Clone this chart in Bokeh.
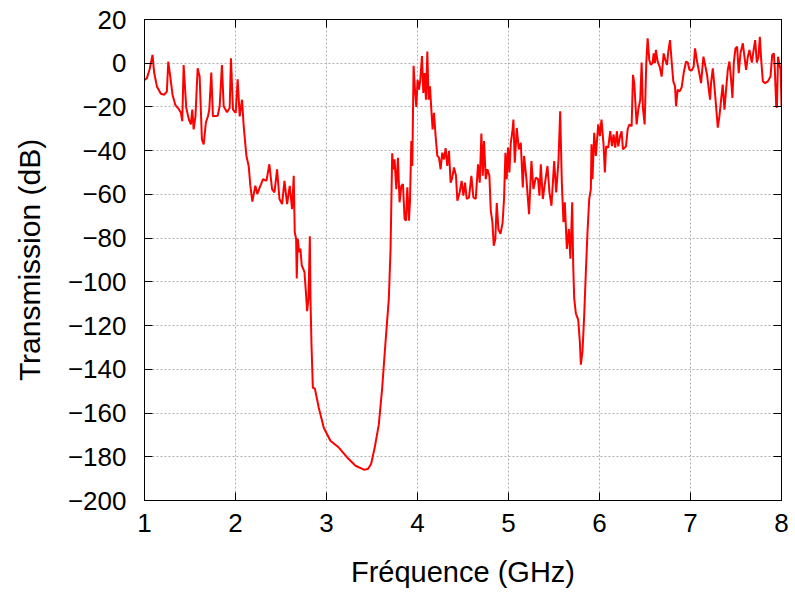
from bokeh.plotting import figure
from bokeh.models import LinearAxis, FixedTicker, Range1d, CustomLabelingPolicy
from bokeh.embed import file_html
from bokeh.resources import INLINE

# Frequency (GHz) and transmission (dB)
freq = [
    1.000, 1.026, 1.055, 1.088, 1.107, 1.136, 1.180, 1.217, 1.246, 1.261,
    1.283, 1.308, 1.338, 1.375, 1.400, 1.415, 1.430, 1.459, 1.488, 1.510,
    1.525, 1.540, 1.560, 1.584, 1.606, 1.631, 1.650, 1.675, 1.697, 1.712,
    1.734, 1.752, 1.804, 1.826, 1.851, 1.870, 1.906, 1.936, 1.950, 1.972,
    2.002, 2.024, 2.046, 2.072, 2.090, 2.120, 2.145, 2.163, 2.185, 2.218,
    2.240, 2.273, 2.303, 2.340, 2.372, 2.402, 2.428, 2.457, 2.483, 2.512,
    2.538, 2.567, 2.596, 2.622, 2.640, 2.651, 2.666, 2.673, 2.684, 2.699,
    2.713, 2.728, 2.743, 2.758, 2.776, 2.787, 2.802, 2.817, 2.824, 2.835,
    2.850, 2.872, 2.915, 2.970, 3.043, 3.135, 3.227, 3.319, 3.411, 3.455,
    3.490, 3.530, 3.575, 3.612, 3.649, 3.685, 3.704, 3.722, 3.733, 3.748,
    3.767, 3.785, 3.803, 3.822, 3.840, 3.858, 3.873, 3.888, 3.906, 3.917,
    3.932, 3.943, 3.957, 3.972, 3.987, 4.001, 4.016, 4.031, 4.049, 4.064,
    4.078, 4.093, 4.108, 4.122, 4.137, 4.152, 4.166, 4.181, 4.199, 4.218,
    4.236, 4.254, 4.272, 4.291, 4.309, 4.327, 4.346, 4.364, 4.382, 4.401,
    4.423, 4.438, 4.463, 4.485, 4.504, 4.522, 4.541, 4.566, 4.592, 4.614,
    4.640, 4.665, 4.684, 4.702, 4.717, 4.731, 4.750, 4.768, 4.790, 4.805,
    4.823, 4.838, 4.855, 4.871, 4.889, 4.912, 4.935, 4.951, 4.966, 4.980,
    4.995, 5.010, 5.025, 5.043, 5.054, 5.069, 5.091, 5.113, 5.135, 5.157,
    5.171, 5.197, 5.226, 5.252, 5.274, 5.300, 5.325, 5.340, 5.355, 5.377,
    5.399, 5.428, 5.450, 5.472, 5.502, 5.524, 5.549, 5.568, 5.586, 5.604,
    5.619, 5.641, 5.663, 5.680, 5.700, 5.711, 5.722, 5.740, 5.766, 5.784,
    5.795, 5.813, 5.832, 5.850, 5.868, 5.887, 5.905, 5.912, 5.923, 5.942,
    5.960, 5.986, 6.004, 6.022, 6.044, 6.059, 6.073, 6.096, 6.118, 6.137,
    6.155, 6.173, 6.191, 6.206, 6.228, 6.243, 6.258, 6.291, 6.309, 6.327,
    6.353, 6.368, 6.382, 6.408, 6.426, 6.448, 6.463, 6.477, 6.496, 6.514,
    6.529, 6.547, 6.565, 6.584, 6.595, 6.609, 6.620, 6.639, 6.661, 6.683,
    6.705, 6.723, 6.742, 6.756, 6.775, 6.793, 6.811, 6.830, 6.841, 6.859,
    6.881, 6.903, 6.925, 6.951, 6.970, 6.988, 7.013, 7.035, 7.050, 7.072,
    7.090, 7.116, 7.142, 7.164, 7.182, 7.197, 7.215, 7.226, 7.245, 7.263,
    7.281, 7.300, 7.318, 7.336, 7.354, 7.373, 7.391, 7.410, 7.428, 7.446,
    7.461, 7.476, 7.494, 7.512, 7.530, 7.549, 7.575, 7.593, 7.611, 7.630,
    7.648, 7.674, 7.696, 7.711, 7.729, 7.747, 7.762, 7.777, 7.795, 7.821,
    7.850, 7.879, 7.898, 7.916, 7.927, 7.942, 7.950, 7.962, 7.973, 7.991,
    8.000,
]
trans = [
    -7.6, -6.8, -3.0, 3.8, -4.5, -10.6, -14.0, -14.4, -12.9, 0.7,
    -6.1, -14.4, -19.0, -20.9, -22.7, -26.5, -0.8, -20.5, -25.8, -28.0,
    -21.2, -30.3, -24.3, -2.3, -6.1, -34.9, -37.1, -27.0, -24.3, -21.2,
    -4.3, -24.3, -24.0, -19.7, -0.8, -19.7, -22.4, -20.5, 2.3, -21.2,
    -22.7, -7.3, -24.3, -16.7, -28.8, -42.4, -47.0, -56.0, -63.3, -56.0,
    -59.8, -56.1, -53.0, -53.8, -46.2, -57.6, -59.1, -48.5, -62.1, -64.4,
    -53.8, -64.4, -56.1, -66.7, -51.5, -77.3, -80.3, -98.5, -80.3, -86.4,
    -84.8, -92.4, -93.9, -95.5, -106.1, -113.4, -107.6, -79.1, -107.6, -128.8,
    -148.5, -148.8, -157.6, -166.7, -172.7, -175.8, -180.3, -184.1, -185.9, -185.6,
    -183.3, -175.8, -165.2, -148.5, -127.3, -107.6, -84.9, -41.2, -48.5, -44.0,
    -57.6, -43.2, -63.6, -56.1, -55.3, -71.2, -72.0, -56.8, -72.0, -63.6,
    -35.6, -47.0, -1.2, -12.1, -20.0, -7.6, -12.1, -7.6, 3.3, -13.6,
    -4.5, -16.7, 5.3, -16.7, -10.6, -21.2, -30.3, -22.7, -33.3, -42.4,
    -43.2, -48.5, -40.9, -44.0, -38.8, -47.0, -40.2, -54.6, -52.3, -47.7,
    -51.5, -62.9, -59.1, -53.8, -60.6, -54.6, -62.1, -61.4, -51.5, -61.4,
    -62.1, -46.2, -54.6, -32.1, -51.5, -35.6, -53.0, -48.5, -51.5, -67.4,
    -72.7, -83.5, -80.5, -64.0, -76.0, -78.0, -73.0, -62.0, -41.0, -53.0,
    -38.6, -50.0, -36.4, -31.1, -25.8, -45.5, -29.6, -39.4, -36.4, -56.8,
    -42.4, -53.0, -69.0, -44.7, -57.6, -52.3, -53.0, -60.6, -46.2, -62.1,
    -55.3, -47.0, -59.1, -65.2, -44.7, -59.1, -44.7, -22.0, -54.6, -72.7,
    -63.6, -84.9, -75.8, -89.4, -63.6, -92.4, -107.6, -114.4, -117.4, -127.3,
    -137.9, -131.8, -115.2, -95.5, -77.3, -62.1, -57.6, -37.1, -53.0, -31.8,
    -42.4, -28.0, -33.3, -25.8, -37.0, -50.0, -38.0, -38.6, -31.1, -37.9,
    -32.6, -38.6, -31.1, -38.0, -33.0, -31.1, -39.4, -38.0, -30.3, -28.0,
    -28.8, -5.3, -9.1, -28.0, -21.2, -16.7, 0.3, -20.5, -28.0, 0.0,
    11.4, 1.5, -0.8, 0.3, 4.5, 0.0, 6.1, 0.8, -1.5, -6.1,
    4.5, 1.5, -0.8, 5.3, 10.6, 0.8, -8.3, -10.6, -19.7, -12.1,
    -12.9, -11.0, -4.5, 0.8, 0.3, -3.0, -3.3, -1.5, 6.8, 0.8,
    -3.0, -9.1, 3.0, -1.5, -5.3, -10.6, -16.7, -9.1, -2.3, -10.6,
    -19.7, -29.5, -24.2, -16.7, -9.8, -21.2, -12.1, -3.0, 0.8, -7.6,
    -15.9, 0.3, 6.8, 7.6, -4.5, 4.5, 9.1, 3.0, -3.0, 3.0,
    6.1, 0.3, 6.8, 10.6, 0.3, 3.0, 12.1, 1.5, -8.3, -9.1,
    -8.3, -6.1, 3.8, 4.5, -3.0, -20.0, -20.0, 3.0, 0.3, -3.0,
    -19.7,
]

x_ticks = [1, 2, 3, 4, 5, 6, 7, 8]
y_ticks = [-200, -180, -160, -140, -120, -100, -80, -60, -40, -20, 0, 20]
x_label = "Fréquence (GHz)"
y_label = "Transmission (dB)"

FONT = "Liberation Sans"

p = figure(
    width=793, height=590,
    x_range=Range1d(1, 8), y_range=Range1d(-200, 20),
    output_backend="svg", toolbar_location=None,
    min_border_left=144, min_border_top=19, min_border_right=12, min_border_bottom=87,
    x_axis_label=x_label, y_axis_label=y_label,
)
p.background_fill_color = "white"
p.border_fill_color = "white"
p.outline_line_color = "black"
p.outline_line_width = 1

p.line(freq, trans, line_color="#ff0000", line_width=2)

y_over = {v: str(v).replace("-", "\u2212") for v in y_ticks}
x_over = {v: str(v) for v in x_ticks}

for ax, ticks, over in ((p.xaxis[0], x_ticks, x_over), (p.yaxis[0], y_ticks, y_over)):
    ax.ticker = FixedTicker(ticks=ticks)
    ax.major_label_overrides = over
    ax.major_tick_in = 8
    ax.major_tick_out = 0
    ax.minor_tick_line_color = None
    ax.axis_line_color = "black"
    ax.major_tick_line_color = "black"
    ax.major_label_text_font = FONT
    ax.major_label_text_font_size = "26px"
    ax.major_label_text_color = "black"
    ax.axis_label_text_font = FONT
    ax.axis_label_text_font_style = "normal"
    ax.axis_label_text_color = "black"

p.xaxis[0].major_label_standoff = 13
p.xaxis[0].axis_label_text_font_size = "29px"
p.xaxis[0].axis_label_standoff = 21
p.yaxis[0].major_label_standoff = 18
p.yaxis[0].axis_label_text_font_size = "30px"
p.yaxis[0].axis_label_standoff = 19

# mirrored tick marks on the right and top (no labels drawn)
no_labels = CustomLabelingPolicy(code="""
const all = [...indices];
for (const i of all) { indices.unset(i); }
return indices;
""")
right_ax = LinearAxis(ticker=FixedTicker(ticks=y_ticks), major_label_text_font_size="1px",
                      major_label_standoff=0, major_tick_in=8, major_tick_out=0,
                      major_label_policy=no_labels,
                      minor_tick_line_color=None, axis_line_color="black")
top_ax = LinearAxis(ticker=FixedTicker(ticks=x_ticks), major_label_text_font_size="1px",
                    major_label_standoff=0, major_tick_in=8, major_tick_out=0,
                    major_label_policy=no_labels,
                    minor_tick_line_color=None, axis_line_color="black")
p.add_layout(right_ax, "right")
p.add_layout(top_ax, "above")

for g, ticks in ((p.xgrid[0], x_ticks), (p.ygrid[0], y_ticks)):
    g.ticker = FixedTicker(ticks=ticks)
    g.grid_line_color = "#b0b0b0"
    g.grid_line_dash = "2 2"
    g.grid_line_width = 1

open("out.html", "w").write(file_html(p, INLINE))
